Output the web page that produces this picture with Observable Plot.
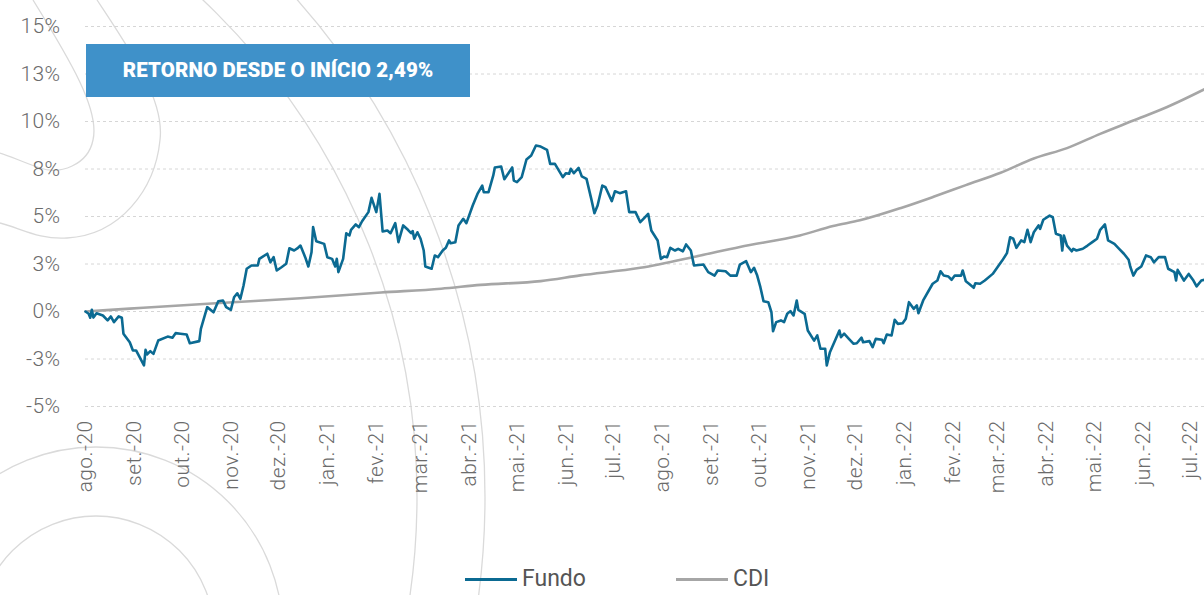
<!DOCTYPE html>
<html>
<head>
<meta charset="utf-8">
<script src="https://cdn.jsdelivr.net/npm/d3@7"></script>
<script src="https://cdn.jsdelivr.net/npm/@observablehq/plot@0.6"></script>
<style>
  html, body { margin: 0; padding: 0; background: #fff; }
  #wrap { position: relative; width: 1204px; height: 595px; overflow: hidden; font-family: Roboto, "Noto Sans", sans-serif; }
  #deco { position: absolute; left: 0; top: 0; }
  #chart { position: absolute; left: 0; top: 0; }
  #banner { position: absolute; left: 86px; top: 44px; width: 384px; height: 53px; background: #3f91c9;
            color: #fff; font-weight: 900; font-size: 20.5px; line-height: 53px; text-align: center; letter-spacing: 0.1px; }
  #legend { position: absolute; top: 566px; left: 465px; display: flex; align-items: center; font-size: 23px; color: #555; font-weight: 400; line-height: 26px; }
  .item { display: flex; align-items: center; }
  .swatch { width: 52px; height: 3px; margin-right: 5px; }
</style>
</head>
<body>
<div id="wrap">
  <svg id="deco" width="1204" height="595">
    <g fill="none" stroke="#dadada" stroke-width="1.3">
      <circle cx="-267" cy="497" r="684"></circle>
      <circle cx="-267" cy="497" r="752"></circle>
      <circle cx="96" cy="634" r="187"></circle>
      <circle cx="96" cy="634" r="118"></circle>
      <path d="M33,0 C70,60 100,110 93,140 C88,165 60,175 40,168 C25,163 10,156 0,153"></path>
      <path d="M97,0 C130,50 165,100 160,140 C155,190 120,235 67,238 C40,240 20,228 0,223"></path>
    </g>
  </svg>
  <div id="chart"></div>
  <div id="banner">RETORNO DESDE O INÍCIO 2,49%</div>
  <div id="legend">
    <div class="item"><div class="swatch" style="background:#0b6a92"></div><span>Fundo</span></div>
    <div class="item" style="margin-left:90px"><div class="swatch" style="background:#a6a6a6"></div><span>CDI</span></div>
  </div>
</div>
<script>
// ---- Data (days since 2020-08-01, cumulative return in %) ----
const fundoDays = [0,2,3,4,5,7,11,14,16,18,21,23,24,28,30,32,37,38,39,41,43,46,52,55,57,60,64,66,72,73,77,81,84,87,89,92,94,96,98,100,102,105,109,110,115,117,119,121,124,127,129,132,134,136,139,141,143,144,146,151,153,156,158,159,160,163,165,167,168,171,173,175,179,181,184,186,188,191,193,196,198,201,204,206,207,208,210,212,214,215,219,221,223,226,228,230,231,234,236,239,241,245,248,251,252,255,258,259,263,265,268,270,271,273,276,279,282,285,288,292,294,297,302,304,306,307,309,312,314,317,320,322,324,327,329,333,335,338,342,344,348,351,353,356,358,362,364,366,368,370,373,375,378,380,383,385,391,394,398,400,405,408,412,414,418,421,423,425,427,429,432,434,435,437,440,442,444,446,448,450,451,455,457,461,463,465,468,469,471,477,478,480,483,486,488,491,492,496,498,500,504,505,507,510,512,514,517,519,521,524,526,527,530,536,539,541,543,546,548,550,554,555,557,559,562,563,566,569,574,577,580,583,585,587,589,592,594,596,598,600,603,604,606,610,612,614,617,618,619,621,624,625,627,631,634,637,640,642,645,647,651,654,657,660,661,663,665,668,671,674,676,679,683,685,689,690,691,695,698,701,703,706,708];
const fundoValues = [0,-0.12,-0.33,0.09,-0.32,-0.09,-0.21,-0.47,-0.26,-0.56,-0.26,-0.33,-1.17,-1.62,-2.05,-2.05,-2.84,-2.02,-2.26,-2.09,-2.23,-1.53,-1.32,-1.38,-1.14,-1.17,-1.21,-1.67,-1.56,-0.91,0.23,-0.04,0.54,0.58,0.23,0.09,0.75,0.96,0.67,1.37,2.25,2.42,2.42,2.77,3.04,2.59,2.86,2.16,2.33,2.51,3.33,3.21,3.32,3.47,2.86,2.37,3.12,4.44,3.70,3.56,2.86,2.77,2.37,2.77,2.07,2.77,4.12,4.00,4.30,4.58,4.44,4.75,5.23,5.98,5.23,6.19,4.21,4.26,4.12,4.65,3.65,4.53,4.30,4.12,4.23,3.83,4.17,3.83,3.21,2.37,2.25,2.95,2.86,3.21,3.35,3.74,3.59,3.65,4.53,4.88,4.65,5.58,6.19,6.63,6.28,6.28,7.16,7.58,7.63,6.96,7.33,7.58,6.89,6.81,7.07,8.00,8.21,8.74,8.68,8.51,7.77,7.77,7.07,7.28,7.25,7.51,7.28,7.56,7.11,6.98,5.93,5.17,5.58,6.63,6.54,5.81,6.33,6.23,6.33,5.23,5.23,4.70,4.88,5.14,4.26,3.74,2.77,2.89,2.86,3.35,3.21,3.30,3.17,3.53,3.21,2.42,2.47,2.07,1.89,2.16,2.12,1.89,1.89,2.47,2.65,2.07,2.30,1.89,1.28,0.54,0.49,-0.04,-1.04,-0.56,-0.47,-0.56,-0.12,0.02,-0.21,0.58,0.09,-0.12,-1.00,-1.53,-1.26,-1.96,-1.96,-2.84,-2.14,-1.00,-1.35,-1.17,-1.44,-1.70,-1.67,-1.38,-1.62,-1.56,-1.88,-1.44,-1.49,-1.67,-1.21,-1.26,-0.44,-0.65,-0.62,-0.38,0.49,0.14,0.32,-0.09,0.58,1.46,1.63,2.12,1.89,1.84,1.67,1.89,1.89,2.16,1.59,1.46,1.25,1.49,1.46,1.63,1.98,2.33,2.68,3.07,3.91,3.83,3.35,3.74,3.65,4.30,3.65,4.17,4.53,4.35,4.83,5.05,4.96,4.09,4.00,3.21,4.00,3.47,3.17,3.30,3.21,3.30,3.47,3.65,3.83,4.30,4.58,3.74,3.56,3.30,3.04,2.72,2.37,1.89,2.19,2.37,2.95,2.86,2.59,2.86,2.86,2.25,2.07,1.63,2.19,1.63,1.98,1.63,1.32,1.63,1.67];
const cdiDays = [0,28,85,136,187,225,250,288,313,351,389,414,452,473,490,516,537,557,579,600,621,642,663,684,708];
const cdiValues = [0,0.15,0.45,0.70,1.00,1.20,1.40,1.60,1.90,2.30,2.95,3.40,4.00,4.50,4.80,5.45,6.05,6.65,7.30,8.05,8.60,9.35,10.05,10.75,11.70];
const monthLabels = ["ago.-20","set.-20","out.-20","nov.-20","dez.-20","jan.-21","fev.-21","mar.-21","abr.-21","mai.-21","jun.-21","jul.-21","ago.-21","set.-21","out.-21","nov.-21","dez.-21","jan.-22","fev.-22","mar.-22","abr.-22","mai.-22","jun.-22","jul.-22"];
const yTicks = [-5,-2.5,0,2.5,5,7.5,10,12.5,15];
const yTickLabels = ["-5%","-3%","0%","3%","5%","8%","10%","13%","15%"];

// ---- Build tables ----
const start = Date.UTC(2020, 7, 1);
const dayMs = 864e5;
const fundo = fundoDays.map((d, i) => ({date: new Date(start + d * dayMs), value: fundoValues[i]}));
const cdi = cdiDays.map((d, i) => ({date: new Date(start + d * dayMs), value: cdiValues[i]}));
const monthTicks = monthLabels.map((_, i) => new Date(Date.UTC(2020, 7 + i, 1)));
const endDate = new Date(start + 708 * dayMs);

const chart = Plot.plot({
  width: 1204,
  height: 545,
  marginLeft: 85,
  marginRight: 0,
  marginTop: 26,
  marginBottom: 139,
  style: {fontFamily: "Roboto, sans-serif", fontWeight: 300, color: "#6b6b6b", background: "transparent", overflow: "visible", letterSpacing: "0.4px"},
  x: {type: "utc", domain: [new Date(start), endDate]},
  y: {domain: [-5, 15]},
  marks: [
    Plot.gridY(yTicks, {stroke: "#d6d6d6", strokeOpacity: 1, strokeDasharray: "3,3", strokeWidth: 1}),
    Plot.axisY(yTicks, {tickSize: 0, tickPadding: 25, fontSize: 21, tickFormat: (d) => yTickLabels[yTicks.indexOf(d)], label: null}),
    Plot.axisX(monthTicks, {tickSize: 0, tickPadding: 14, tickRotate: -90, fontSize: 21, tickFormat: (d) => monthLabels[monthTicks.findIndex(t => +t === +d)], label: null}),
    Plot.line(cdi, {x: "date", y: "value", stroke: "#a6a6a6", strokeWidth: 2.6, curve: "monotone-x"}),
    Plot.line(fundo, {x: "date", y: "value", stroke: "#0b6a92", strokeWidth: 2.6})
  ]
});
document.getElementById("chart").appendChild(chart);
</script>
</body>
</html>
